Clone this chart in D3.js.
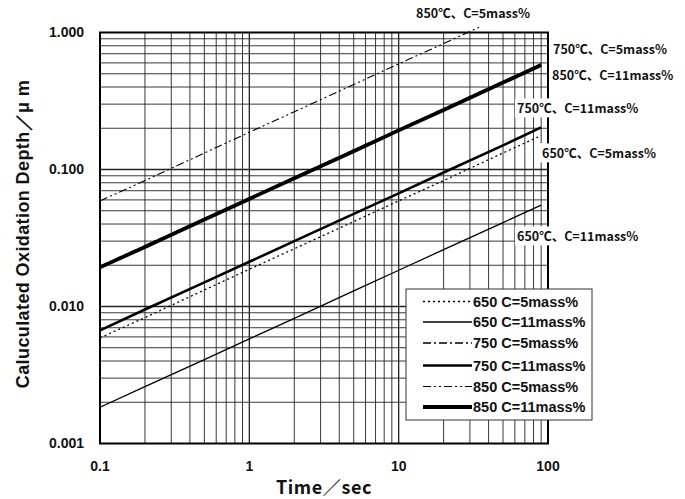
<!DOCTYPE html>
<html>
<head>
<meta charset="utf-8">
<script src="https://cdn.jsdelivr.net/npm/d3@7"></script>
<style>
    body { margin: 0; background: #fff; }
    text { font-family: "Noto Sans CJK JP", "Liberation Sans", sans-serif; fill: #111; }
    .arial { font-family: "Liberation Sans", Arial, sans-serif; }
</style>
</head>
<body>
<div id="chart"></div>
<script>

// time points (sec)
const times = [0.1, 0.2, 0.5, 1, 2, 5, 10, 20, 50, 90];
const times850c5 = [0.1, 0.2, 0.5, 1, 2, 5, 10, 20, 35];

// oxidation depth (um)
const d650c5  = [0.0059, 0.0083, 0.0132, 0.0187, 0.0264, 0.0417, 0.059, 0.083, 0.132, 0.177];
const d650c11 = [0.00184, 0.0026, 0.0041, 0.0058, 0.0082, 0.0130, 0.0184, 0.026, 0.041, 0.055];
const d750c5  = [0.0197, 0.0278, 0.0438, 0.0620, 0.0876, 0.139, 0.196, 0.278, 0.440, 0.590];
const d750c11 = [0.0067, 0.0095, 0.0150, 0.0212, 0.030, 0.0474, 0.067, 0.095, 0.150, 0.203];
const d850c5  = [0.059, 0.083, 0.132, 0.187, 0.264, 0.417, 0.59, 0.83, 1.10];
const d850c11 = [0.0193, 0.0272, 0.0431, 0.061, 0.0863, 0.136, 0.193, 0.272, 0.431, 0.58];

const legendNames = ["650 C=5mass%", "650 C=11mass%", "750 C=5mass%", "750 C=11mass%", "850 C=5mass%", "850 C=11mass%"];
const xTicks = [0.1, 1, 10, 100];
const xTickLabels = ["0.1", "1", "10", "100"];
const yTicks = [0.001, 0.01, 0.1, 1];
const yTickLabels = ["0.001", "0.010", "0.100", "1.000"];

const series = [
    {name: legendNames[0], t: times, d: d650c5,  width: 1.3, dash: "2,3"},
    {name: legendNames[1], t: times, d: d650c11, width: 1.3, dash: null},
    {name: legendNames[2], t: times, d: d750c5,  width: 1.3, dash: "8,3,2,3"},
    {name: legendNames[3], t: times, d: d750c11, width: 2.6, dash: null},
    {name: legendNames[4], t: times850c5, d: d850c5, width: 1.1, dash: "8,3,2,3,2,3"},
    {name: legendNames[5], t: times, d: d850c11, width: 3.8, dash: null}
];

// labels next to the line ends
const notes = [
    {text: "850℃、C=5mass%",  x: 416, y: 14, bg: false},
    {text: "750℃、C=5mass%",  x: 553, y: 50, bg: false},
    {text: "850℃、C=11mass%", x: 552, y: 76, bg: false},
    {text: "750℃、C=11mass%", x: 517, y: 109, bg: true},
    {text: "650℃、C=5mass%",  x: 542, y: 154, bg: true},
    {text: "650℃、C=11mass%", x: 517, y: 237, bg: true}
];

const W = 685, H = 499;
const margin = {top: 32.5, right: 137, bottom: 55.5, left: 100};
const width = W - margin.left - margin.right;
const height = H - margin.top - margin.bottom;

const svg = d3.select("#chart").append("svg")
    .attr("width", W)
    .attr("height", H)
    .style("background", "#fff");

const g = svg.append("g")
    .attr("transform", `translate(${margin.left},${margin.top})`);

const x = d3.scaleLog().domain([0.1, 100]).range([0, width]);
const y = d3.scaleLog().domain([0.001, 1]).range([height, 0]);

// grid lines
const xGrid = x.ticks().filter(v => v > 0.1 && v < 100);
const yGrid = y.ticks().filter(v => v > 0.001 && v < 1);

g.append("g").selectAll("line")
    .data(xGrid)
    .join("line")
    .attr("x1", d => x(d)).attr("x2", d => x(d))
    .attr("y1", 0).attr("y2", height)
    .attr("stroke", "#222")
    .attr("stroke-width", d => xTicks.includes(d) ? 1.3 : 0.9);

g.append("g").selectAll("line")
    .data(yGrid)
    .join("line")
    .attr("x1", 0).attr("x2", width)
    .attr("y1", d => y(d)).attr("y2", d => y(d))
    .attr("stroke", "#222")
    .attr("stroke-width", d => yTicks.includes(d) ? 1.3 : 0.9);

// data lines
const line = d3.line()
    .x(d => x(d[0]))
    .y(d => y(d[1]));

g.append("g").selectAll("path")
    .data(series)
    .join("path")
    .attr("d", s => line(s.t.map((t, i) => [t, s.d[i]])))
    .attr("fill", "none")
    .attr("stroke", "#000")
    .attr("stroke-width", s => s.width)
    .attr("stroke-dasharray", s => s.dash);

// frame
g.append("rect")
    .attr("width", width)
    .attr("height", height)
    .attr("fill", "none")
    .attr("stroke", "#000")
    .attr("stroke-width", 2);

// tick labels
g.append("g").selectAll("text")
    .data(xTicks)
    .join("text")
    .attr("class", "arial")
    .attr("x", d => x(d))
    .attr("y", height + 27)
    .attr("text-anchor", "middle")
    .attr("font-size", 14)
    .attr("font-weight", "bold")
    .text((d, i) => xTickLabels[i]);

g.append("g").selectAll("text")
    .data(yTicks)
    .join("text")
    .attr("class", "arial")
    .attr("x", -16)
    .attr("y", d => y(d))
    .attr("dy", "0.35em")
    .attr("text-anchor", "end")
    .attr("font-size", 14)
    .attr("font-weight", "bold")
    .text((d, i) => yTickLabels[i]);

// axis titles
svg.append("text")
    .attr("x", margin.left + width / 2)
    .attr("y", 494)
    .attr("text-anchor", "middle")
    .attr("font-size", 18)
    .attr("letter-spacing", 0.6)
    .attr("font-weight", "bold")
    .text("Time／sec");

svg.append("text")
    .attr("transform", `translate(29, ${margin.top + height / 2 - 4}) rotate(-90)`)
    .attr("class", "arial")
    .attr("text-anchor", "middle")
    .attr("font-size", 18)
    .attr("letter-spacing", 0.4)
    .attr("font-weight", "bold")
    .text("Caluculated Oxidation Depth／μ m");

// line labels
const noteG = svg.append("g");
notes.forEach(n => {
    const t = noteG.append("text")
        .attr("x", n.x)
        .attr("y", n.y)
        .attr("dy", "0.35em")
        .attr("font-size", 12.5)
        .attr("font-weight", "bold")
        .text(n.text);
    if (n.bg) {
        const bb = t.node().getBBox();
        noteG.insert("rect", () => t.node())
            .attr("x", bb.x - 2).attr("y", bb.y)
            .attr("width", bb.width + 4).attr("height", bb.height)
            .attr("fill", "#fff");
    }
});

// legend
const legend = svg.append("g").attr("transform", "translate(406, 289)");

legend.append("rect")
    .attr("width", 186)
    .attr("height", 131)
    .attr("fill", "#fff")
    .attr("stroke", "#333")
    .attr("stroke-width", 1);

const rowY = [12.5, 33, 54, 76.5, 97.5, 118];
const items = legend.selectAll("g.item")
    .data(series)
    .join("g")
    .attr("class", "item")
    .attr("transform", (d, i) => `translate(0, ${rowY[i]})`);

items.append("line")
    .attr("x1", 17).attr("x2", 66)
    .attr("stroke", "#000")
    .attr("stroke-width", d => d.width)
    .attr("stroke-dasharray", d => d.dash);

items.append("text")
    .attr("class", "arial")
    .attr("x", 67)
    .attr("dy", "0.35em")
    .attr("font-size", 14.5)
    .attr("font-weight", "bold")
    .text(d => d.name);

</script>
</body>
</html>
